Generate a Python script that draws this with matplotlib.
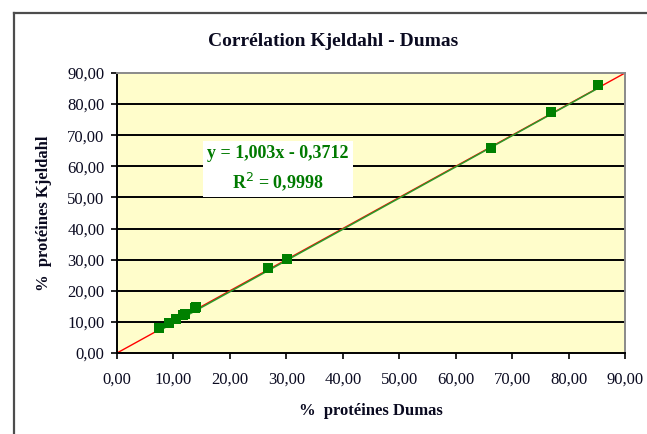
import matplotlib
matplotlib.use("Agg")
import matplotlib.pyplot as plt
from matplotlib.lines import Line2D
import numpy as np

# Data
dumas = [7.5, 9.3, 10.5, 11.7, 12.1, 13.8, 14.0, 26.7, 30.2, 66.2, 76.9, 85.3]
kjeldahl = [7.9, 9.7, 10.8, 12.2, 12.6, 14.5, 14.9, 27.3, 30.2, 65.8, 77.4, 86.1]
slope = 1.003
intercept = -0.3712
r2_text = "0,9998"
ticks = [0, 10, 20, 30, 40, 50, 60, 70, 80, 90]
tick_labels = ["0,00", "10,00", "20,00", "30,00", "40,00", "50,00",
               "60,00", "70,00", "80,00", "90,00"]
title = "Corrélation Kjeldahl - Dumas"
xlabel = "%  protéines Dumas"
ylabel = "%  protéines Kjeldahl"

W, H = 647, 434
fig = plt.figure(figsize=(W / 100, H / 100), dpi=100)
fig.patch.set_facecolor("white")

# outer chart border (extends beyond the image)
fig.add_artist(Line2D([14 / W, 14 / W], [1 - 13 / H, -0.1], color="#4d4d4d", lw=1.6,
                      transform=fig.transFigure))
fig.add_artist(Line2D([14 / W, 1.1], [1 - 13 / H, 1 - 13 / H], color="#4d4d4d", lw=1.6,
                      transform=fig.transFigure))

ax = fig.add_axes([117 / W, 1 - 353 / H, (625 - 117) / W, (353 - 73) / H])
ax.set_facecolor("#FFFDCB")
ax.set_xlim(0, 90)
ax.set_ylim(0, 90)

serif = "Liberation Serif"
for t in ticks[1:-1]:
    ax.axhline(t, color="black", lw=1.4, zorder=1)

# identity line (red) and trendline (green)
ax.plot([ticks[0], ticks[-1]], [ticks[0], ticks[-1]], color="red", lw=1.0, zorder=2)
xs = np.array([min(dumas), max(dumas)])
ax.plot(xs, slope * xs + intercept, color="#2a9a2a", lw=1.1, zorder=3)
ax.scatter(dumas, kjeldahl, marker="s", s=44, color="#008000", zorder=4, linewidths=0)

ax.set_xticks(ticks)
ax.set_yticks(ticks)
ax.set_xticklabels(tick_labels, fontfamily=serif, fontsize=12, color="#0a0a20")
ax.set_yticklabels(tick_labels, fontfamily=serif, fontsize=12, color="#0a0a20")
ax.tick_params(axis="both", direction="out", length=4.5, width=1.2, color="black")
ax.tick_params(axis="x", pad=9)
ax.tick_params(axis="y", pad=4.5)

for s in ["left", "bottom"]:
    ax.spines[s].set_color("black")
    ax.spines[s].set_linewidth(1.4)
for s in ["top", "right"]:
    ax.spines[s].set_color("#8a8a8a")
    ax.spines[s].set_linewidth(1.4)

ax.set_xlabel(xlabel, fontfamily=serif, fontweight="bold", fontsize=12, labelpad=11,
              color="#0a0a20")
ax.set_ylabel(ylabel, fontfamily=serif, fontweight="bold", fontsize=12, labelpad=11,
              color="#0a0a20")

fig.text(333 / W, 1 - 41 / H, title, fontfamily=serif, fontweight="bold", fontsize=14,
         ha="center", va="center", color="#0a0a20")

eq = "y = 1,003x - 0,3712\nR$^2$ = " + r2_text
ax.text(28.5, 59.2, eq, fontfamily=serif, fontweight="bold", fontsize=13,
        color="#007a00", ha="center", va="center", linespacing=1.45, zorder=5,
        bbox=dict(boxstyle="square,pad=0.25", facecolor="white", edgecolor="none"))

fig.savefig("out.png", dpi=100)
